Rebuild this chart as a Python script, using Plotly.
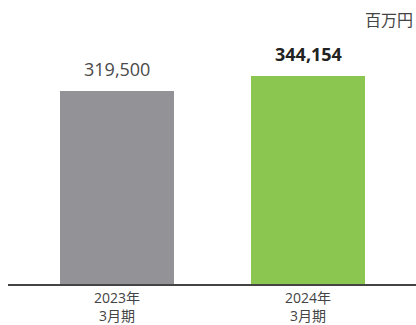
import plotly.graph_objects as go

categories = ["2023年<br>3月期", "2024年<br>3月期"]
values = [319500, 344154]
value_labels = ["319,500", "<b>344,154</b>"]
colors = ["#939397", "#8BC650"]
unit_label = "百万円"

FONT = "Open Sans, Noto Sans CJK JP, sans-serif"
xs = list(range(len(categories)))

fig = go.Figure()
fig.add_trace(go.Bar(
    x=xs, y=values, marker=dict(color=colors, line=dict(width=0)),
    width=0.597, hoverinfo="skip",
))
for x, v, t, c in zip(xs, values, value_labels, ["#4a4a4a", "#222222"]):
    fig.add_annotation(x=x, y=v, text=t, showarrow=False, xanchor="center",
                       yanchor="bottom", yshift=8,
                       font=dict(family=FONT, size=18, color=c))
fig.add_annotation(xref="paper", yref="paper", x=1, y=1, xanchor="right",
                   yanchor="bottom", yshift=-3, xshift=-1, text=unit_label,
                   showarrow=False, font=dict(family=FONT, size=16, color="#444444"))

fig.update_layout(
    width=416, height=325,
    margin=dict(l=8, r=0, t=30, b=39),
    paper_bgcolor="white", plot_bgcolor="white",
    showlegend=False,
    xaxis=dict(range=[-0.571, 1.565], tickvals=xs, ticktext=categories,
               showgrid=False, zeroline=False, showline=True,
               linecolor="#444444", linewidth=1.5, ticks="",
               tickfont=dict(family=FONT, size=14, color="#444444"),
               fixedrange=True),
    yaxis=dict(range=[0, 419500], visible=False, fixedrange=True),
    bargap=0,
)
fig.write_html("out.html", config={"displayModeBar": False})
